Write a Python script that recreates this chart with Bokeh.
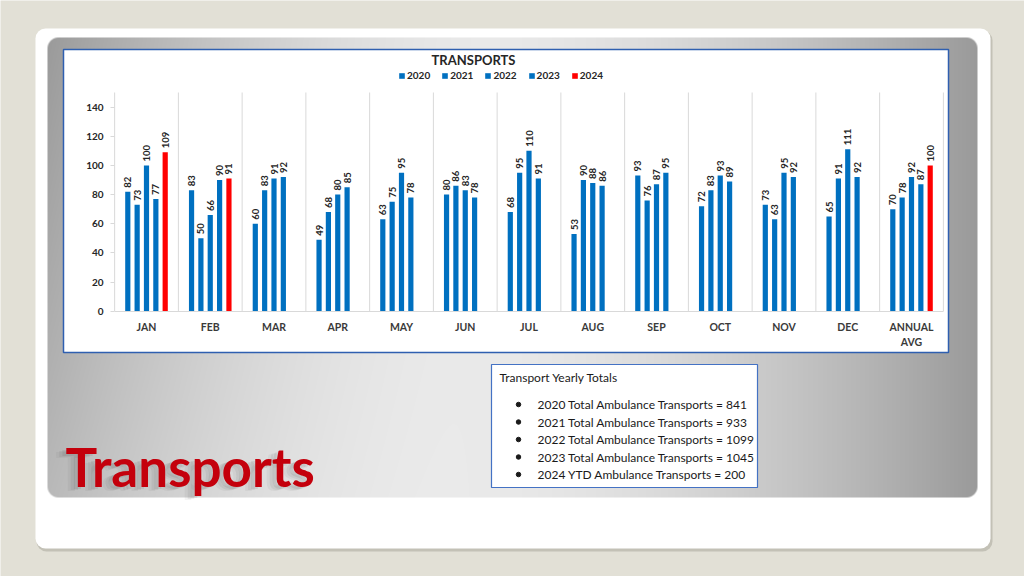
import math
import numpy as np
from bokeh.plotting import figure
from bokeh.models import ColumnDataSource, Range1d, LinearAxis, FixedTicker, Legend, LegendItem
from bokeh.transform import dodge
from bokeh.core.properties import value
from bokeh.embed import file_html
from bokeh.resources import INLINE

# ---------------- data ----------------
categories = ["JAN", "FEB", "MAR", "APR", "MAY", "JUN", "JUL", "AUG", "SEP",
              "OCT", "NOV", "DEC", "ANNUAL\nAVG"]
years = ["2020", "2021", "2022", "2023", "2024"]
transports_2020 = [82, 83, 60, 49, 63, 80, 68, 53, 93, 72, 73, 65, 70]
transports_2021 = [73, 50, 83, 68, 75, 86, 95, 90, 76, 83, 63, 91, 78]
transports_2022 = [100, 66, 91, 80, 95, 83, 110, 88, 87, 93, 95, 111, 92]
transports_2023 = [77, 90, 92, 85, 78, 78, 91, 86, 95, 89, 92, 92, 87]
transports_2024 = [109, 91, None, None, None, None, None, None, None, None, None, None, 100]
y_ticks = [0, 20, 40, 60, 80, 100, 120, 140]
y_max = 150
chart_title = "TRANSPORTS"
box_title = "Transport Yearly Totals"
slide_title = "Transports"

series = [transports_2020, transports_2021, transports_2022, transports_2023, transports_2024]
bar_colors = ["#0070c0", "#0070c0", "#0070c0", "#0070c0", "#ff0000"]

box_lines = [f"{yr} Total Ambulance Transports = {sum(v[:12])}"
             for yr, v in zip(years[:4], series[:4])]
box_lines.append(f"2024 YTD Ambulance Transports = {sum(v for v in transports_2024[:12] if v is not None)}")

# ---------------- layout (picture pixels) ----------------
W, H = 1024, 576
PX0, PY0 = 0, 0
FONT = "Lato"
BEIGE = "#e2e0d6"

CAT_X0 = 146.0      # x of first category centre
CAT_W = 63.75       # category width in px
BASE_Y = 310.7      # y of value 0
TOP_Y = 92.0        # y of value y_max
k = (BASE_Y - TOP_Y) / y_max

p = figure(width=W, height=H,
           x_range=Range1d(PX0, PX0 + W), y_range=Range1d(PY0 + H, PY0),
           x_axis_type=None, y_axis_type=None, tools="",
           output_backend="svg", toolbar_location=None, min_border=0)
p.outline_line_color = None
p.background_fill_color = BEIGE
p.border_fill_color = BEIGE

p.extra_x_ranges = {"cat": Range1d((PX0 - CAT_X0) / CAT_W, (PX0 + W - CAT_X0) / CAT_W)}
p.extra_y_ranges = {"val": Range1d(-(PY0 + H - BASE_Y) / k, (BASE_Y - PY0) / k)}

# ---------------- slide decorations ----------------
p.quad(left=36, right=992, top=30, bottom=551, fill_color="#a9a79c", fill_alpha=0.55,
       line_color=None, border_radius=10)
p.quad(left=35, right=990, top=28, bottom=548, fill_color="white",
       line_color=None, border_radius=10)

# gray gradient panel as an image
PL, PR_, PT, PB, RAD = 47, 977, 37, 497, 11
pw, ph = PR_ - PL, PB - PT
U, V = np.meshgrid((np.arange(pw) + 0.5) / pw, (np.arange(ph) + 0.5) / ph)
cx = 0.47
d = np.where(U < cx, (cx - U) / cx, (U - cx) / (1 - cx))
L = 0.915 - 0.31 * d ** 1.6 + np.where(U < cx, 0.12 * V * d, 0.0)
X, Y = np.meshgrid(np.arange(pw) + 0.5, np.arange(ph) + 0.5)
dxc = np.maximum(0, np.maximum(RAD - X, X - (pw - RAD)))
dyc = np.maximum(0, np.maximum(RAD - Y, Y - (ph - RAD)))
alpha = np.clip(RAD + 0.5 - np.sqrt(dxc ** 2 + dyc ** 2), 0, 1)
g = np.clip(L * 255, 0, 255).astype(np.uint8)
rgba = np.zeros((ph, pw, 4), dtype=np.uint8)
rgba[..., 0] = g
rgba[..., 1] = g
rgba[..., 2] = g
rgba[..., 3] = (alpha * 255).astype(np.uint8)
img = np.ascontiguousarray(rgba).view(np.uint32).reshape(ph, pw)
p.image_rgba(image=[img], x=PL, y=PT, dw=pw, dh=ph)

# chart box
p.quad(left=63, right=948, top=49, bottom=352, fill_color="white",
       line_color="#2f5fb0", line_width=1.5)

# ---------------- chart ----------------
bounds = [i - 0.5 for i in range(len(categories) + 1)]
p.segment(x0=bounds, y0=[0] * len(bounds), x1=bounds, y1=[y_max] * len(bounds),
          line_color="#d9d9d9", line_width=1, x_range_name="cat", y_range_name="val")

SLOT = 9.35 / CAT_W
BAR_W = 5.2 / CAT_W
items = []
for s, (yr, vals, col) in enumerate(zip(years, series, bar_colors)):
    idx = [i for i, v in enumerate(vals) if v is not None]
    src = ColumnDataSource(dict(x=idx, top=[vals[i] for i in idx],
                                label=[str(vals[i]) for i in idx]))
    off = (s - (len(years) - 1) / 2) * SLOT
    r = p.vbar(x=dodge("x", off), top="top", bottom=0, width=BAR_W, source=src,
               fill_color=col, line_color=None, x_range_name="cat", y_range_name="val")
    p.text(x=dodge("x", off), y="top", text="label", source=src, angle=math.pi / 2,
           text_align="left", text_baseline="middle", y_offset=-4,
           text_font=value(FONT), text_font_style="bold", text_font_size="9.5px",
           text_color="#262626", x_range_name="cat", y_range_name="val")
    items.append(LegendItem(label=yr, renderers=[r]))

yaxis = LinearAxis(x_range_name="cat", y_range_name="val", fixed_location=-0.5,
                   bounds=(0, y_max), ticker=FixedTicker(ticks=y_ticks, minor_ticks=[]),
                   axis_line_color=None, major_tick_out=4, major_tick_in=0,
                   major_tick_line_color="#d9d9d9", minor_tick_line_color=None,
                   major_label_standoff=7, major_label_text_font=FONT,
                   major_label_text_font_style="bold", major_label_text_font_size="10px",
                   major_label_text_color="#262626")
p.add_layout(yaxis, "left")

xaxis = LinearAxis(x_range_name="cat", y_range_name="val", fixed_location=0,
                   bounds=(-0.5, len(categories) - 0.5),
                   ticker=FixedTicker(ticks=list(range(len(categories))), minor_ticks=[]),
                   major_label_overrides={i: c for i, c in enumerate(categories)},
                   axis_line_color="#d9d9d9", major_tick_line_color=None,
                   major_tick_out=0, major_tick_in=0, minor_tick_line_color=None,
                   major_label_standoff=10, major_label_text_font=FONT,
                   major_label_text_font_style="bold", major_label_text_font_size="10.5px",
                   major_label_text_color="#3a3a3a")
p.add_layout(xaxis, "below")

legend = Legend(items=items, location=(398, 495), orientation="horizontal",
                label_text_font=FONT, label_text_font_style="bold",
                label_text_font_size="10px", label_text_color="#262626",
                glyph_width=7, glyph_height=7, label_standoff=2, spacing=11,
                padding=0, margin=0, border_line_color=None,
                background_fill_alpha=0, label_height=10)
p.add_layout(legend)

p.text(x=[473], y=[59], text=[chart_title], text_align="center", text_baseline="middle",
       text_font=value(FONT), text_font_style="bold", text_font_size="13px",
       text_color="#262626")

# ---------------- totals box ----------------
p.quad(left=491, right=757, top=364, bottom=487, fill_color="white",
       line_color="#4472c4", line_width=1.2)
p.text(x=[499], y=[377], text=[box_title], text_align="left", text_baseline="middle",
       text_font=value(FONT), text_font_size="12px", text_color="#1a1a1a")
line_y = [404 + 17.5 * j for j in range(len(box_lines))]
p.scatter(x=[518] * len(box_lines), y=line_y, marker="circle", size=4.5,
          color="#1a1a1a")
p.text(x=[537] * len(box_lines), y=line_y, text=box_lines, text_align="left",
       text_baseline="middle", text_font=value(FONT), text_font_size="12px",
       text_color="#1a1a1a")

# ---------------- slide title ----------------
for dx, dy, a in [(-10, 4, 0.06), (-7, 3, 0.08), (-4, 2, 0.10)]:
    p.text(x=[65 + dx], y=[466 + dy], text=[slide_title], text_align="left",
           text_baseline="middle", text_font=value(FONT), text_font_style="bold",
           text_font_size="53px", text_color="#404040", text_alpha=a)
p.text(x=[65], y=[466], text=[slide_title], text_align="left", text_baseline="middle",
       text_font=value(FONT), text_font_style="bold", text_font_size="53px",
       text_color="#c4000c")

open("out.html", "w").write(file_html(p, INLINE))
